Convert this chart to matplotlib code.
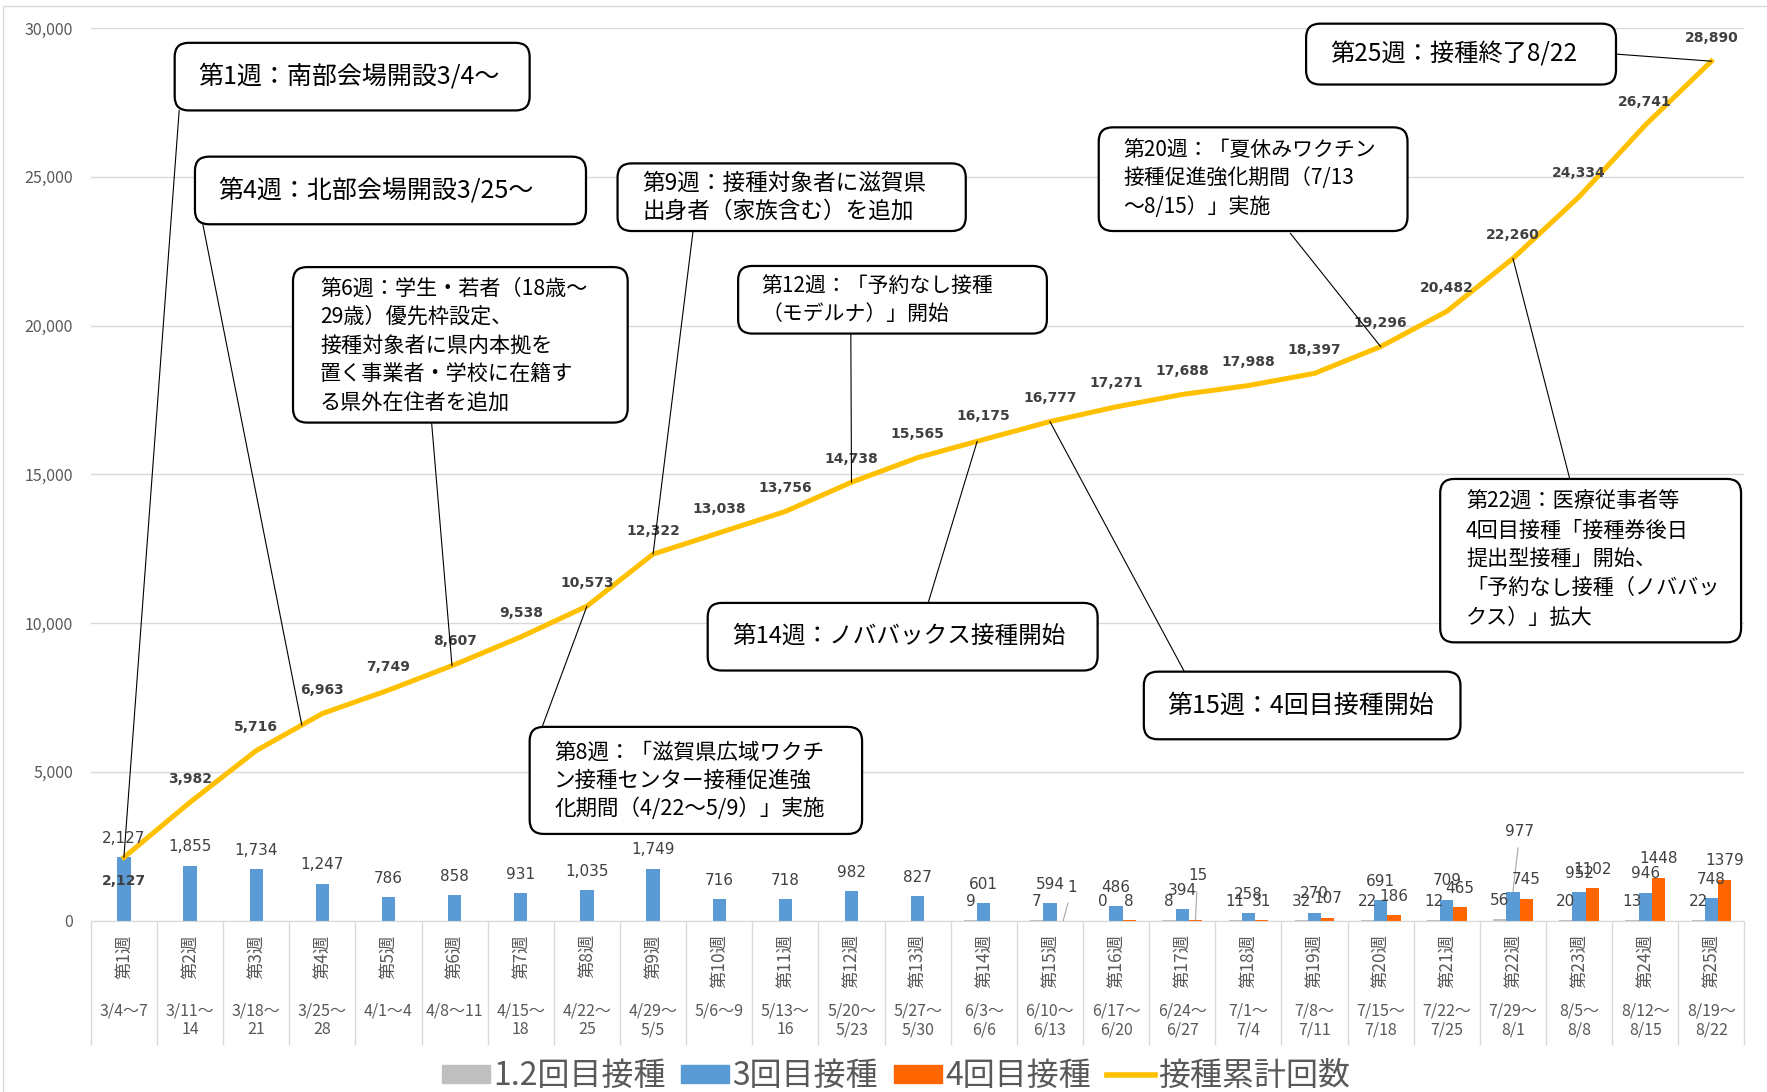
import numpy as np
import matplotlib
matplotlib.use("Agg")
import matplotlib.pyplot as plt
import matplotlib.transforms as mtransforms
from matplotlib.patches import FancyBboxPatch, Patch, ConnectionPatch, Rectangle
from matplotlib.lines import Line2D

plt.rcParams['font.family'] = ['Noto Sans CJK JP', 'DejaVu Sans']

nan = np.nan

weeks = ["第1週", "第2週", "第3週", "第4週", "第5週", "第6週", "第7週", "第8週",
         "第9週", "第10週", "第11週", "第12週", "第13週", "第14週", "第15週",
         "第16週", "第17週", "第18週", "第19週", "第20週", "第21週", "第22週",
         "第23週", "第24週", "第25週"]
dates = ["3/4～7", "3/11～\n14", "3/18～\n21", "3/25～\n28", "4/1～4", "4/8～11",
         "4/15～\n18", "4/22～\n25", "4/29～\n5/5", "5/6～9", "5/13～\n16",
         "5/20～\n5/23", "5/27～\n5/30", "6/3～\n6/6", "6/10～\n6/13", "6/17～\n6/20",
         "6/24～\n6/27", "7/1～\n7/4", "7/8～\n7/11", "7/15～\n7/18", "7/22～\n7/25",
         "7/29～\n8/1", "8/5～\n8/8", "8/12～\n8/15", "8/19～\n8/22"]

# 1.2回目 / 3回目 / 4回目 per week, and running total
dose12 = [nan, nan, nan, nan, nan, nan, nan, nan, nan, nan, nan, nan, nan,
          9, 7, 0, 8, 11, 32, 22, 12, 56, 20, 13, 22]
dose3 = [2127, 1855, 1734, 1247, 786, 858, 931, 1035, 1749, 716, 718, 982, 827,
         601, 594, 486, 394, 258, 270, 691, 709, 977, 952, 946, 748]
dose4 = [nan, nan, nan, nan, nan, nan, nan, nan, nan, nan, nan, nan, nan, nan,
         1, 8, 15, 31, 107, 186, 465, 745, 1102, 1448, 1379]
cumulative = [2127, 3982, 5716, 6963, 7749, 8607, 9538, 10573, 12322, 13038,
              13756, 14738, 15565, 16175, 16777, 17271, 17688, 17988, 18397,
              19296, 20482, 22260, 24334, 26741, 28890]

legend_labels = ["1.2回目接種", "3回目接種", "4回目接種", "接種累計回数"]

GREY = "#BFBFBF"
BLUE = "#5B9BD5"
ORANGE = "#FF6600"
GOLD = "#FFC000"
TXT = "#404040"
AXTXT = "#595959"

# reference layout is measured on a 1568x969 view
SW, SH = 1568, 969
FW, FH = 17.67, 10.92


def X(x):
    return x / SW * FW


def Y(y):
    return (1 - y / SH) * FH


fig = plt.figure(figsize=(FW, FH), dpi=100)
ax = fig.add_axes([80.6 / SW, 1 - 817 / SH, (1548 - 80.6) / SW, (817 - 25) / SH])

x = np.arange(len(weeks))
w = 0.2
ax.bar(x - w, dose12, w, color=GREY, zorder=2)
ax.bar(x, dose3, w, color=BLUE, zorder=2)
ax.bar(x + w, dose4, w, color=ORANGE, zorder=2)
ax.plot(x, cumulative, color=GOLD, lw=3.6, zorder=3, solid_joinstyle='round')

ax.set_xlim(-0.5, len(weeks) - 0.5)
ax.set_ylim(0, 30000)
ax.set_yticks(range(0, 30001, 5000))
ax.yaxis.set_major_formatter(matplotlib.ticker.StrMethodFormatter("{x:,.0f}"))
ax.tick_params(axis='y', length=0, pad=13, labelsize=11.5, labelcolor=AXTXT)
ax.yaxis.grid(True, color="#D9D9D9", lw=1)
ax.set_axisbelow(True)
for s in ["left", "right", "top"]:
    ax.spines[s].set_visible(False)
ax.spines["bottom"].set_color("#D9D9D9")

ax.set_xticks(x)
ax.set_xticklabels([])
ax.tick_params(axis='x', which='major', length=0)
ax.set_xticks(np.arange(-0.5, len(weeks), 1), minor=True)
ax.tick_params(axis='x', which='minor', length=89, color="#D9D9D9", width=1)

trans = mtransforms.blended_transform_factory(ax.transData, fig.transFigure)
for i in x:
    ax.text(i, 1 - 829 / SH, weeks[i], rotation=90, ha='center', va='top',
            transform=trans, fontsize=12.5, color=AXTXT)
    ax.text(i, 1 - 890 / SH, dates[i], ha='center', va='top', transform=trans,
            fontsize=11.5, color=AXTXT, linespacing=1.1)

# running total labels
for i, v in enumerate(cumulative):
    dy = -17 if i == 0 else 17
    ax.annotate(f"{v:,}", (i, v), xytext=(0, dy), textcoords='offset points',
                ha='center', va='center', fontsize=10, fontweight='bold',
                color=TXT, family='DejaVu Sans', zorder=4)

# bar labels
special = {(2, 14): (6.5, 24), (2, 16): (1.5, 32), (1, 21): (5, 43)}
for k, (series, off) in enumerate([(dose12, -w), (dose3, 0), (dose4, w)]):
    for i, v in enumerate(series):
        if np.isnan(v):
            continue
        txt = f"{int(v):,}" if k == 1 else f"{int(v)}"
        if (k, i) in special:
            ax.annotate(txt, (i + off, v), xytext=special[(k, i)],
                        textcoords='offset points', ha='center', va='center',
                        fontsize=11, color=TXT, family='DejaVu Sans',
                        arrowprops=dict(arrowstyle='-', color="#A6A6A6", lw=0.8,
                                        shrinkA=4, shrinkB=0))
        else:
            ax.annotate(txt, (i + off, v), xytext=(0, 13.5),
                        textcoords='offset points', ha='center', va='center',
                        fontsize=11, color=TXT, family='DejaVu Sans')

# callouts: text lines, box (x0, y0, x1, y1), text x, line y's, font size,
# anchor on box, target index on the curve
callouts = [
    (["第1週：南部会場開設3/4～"], (155, 38, 470, 98), 176, [68], 18, (159, 98), 0),
    (["第4週：北部会場開設3/25～"], (173, 139, 520, 199), 194, [169], 18, (180, 199), 2.69),
    (["第6週：学生・若者（18歳～", "29歳）優先枠設定、", "接種対象者に県内本拠を",
      "置く事業者・学校に在籍す", "る県外在住者を追加"],
     (260, 237, 557, 375), 284, [256, 281, 307, 333, 358], 15.2, (383, 375), 4.96),
    (["第9週：接種対象者に滋賀県", "出身者（家族含む）を追加"],
     (548, 145, 857, 205), 570, [163, 187], 16.3, (615, 205), 8),
    (["第12週：「予約なし接種", "（モデルナ）」開始"],
     (655, 236, 929, 296), 676, [254, 279], 15, (755, 296), 11),
    (["第20週：「夏休みワクチン", "接種促進強化期間（7/13", "～8/15）」実施"],
     (975, 113, 1249, 205), 997, [133, 158, 184], 15, (1145, 207), 19),
    (["第25週：接種終了8/22"], (1159, 21, 1434, 75), 1180, [48], 17.5, (1434, 48), 24),
    (["第22週：医療従事者等", "4回目接種「接種券後日", "提出型接種」開始、",
      "「予約なし接種（ノババッ", "クス）」拡大"],
     (1278, 425, 1545, 570), 1301, [445, 471, 497, 522, 548], 15.2, (1393, 425), 21),
    (["第14週：ノババックス接種開始"], (628, 535, 974, 595), 650, [565], 17, (823, 537), 12.9),
    (["第15週：4回目接種開始"], (1015, 596, 1296, 656), 1036, [626], 18, (1051, 596), 14),
    (["第8週：「滋賀県広域ワクチ", "ン接種センター接種促進強", "化期間（4/22～5/9）」実施"],
     (470, 645, 765, 740), 492, [668, 693, 718], 15.5, (480, 648), 7),
]

for lines, (x0, y0, x1, y1), tx, lys, fs, (axx, axy), tgt in callouts:
    box = FancyBboxPatch((X(x0), Y(y1)), X(x1) - X(x0), Y(y0) - Y(y1),
                         boxstyle='round,pad=0,rounding_size=0.14',
                         transform=fig.dpi_scale_trans, fc='white', ec='black',
                         lw=1.6, zorder=6)
    fig.add_artist(box)
    for line, ly in zip(lines, lys):
        fig.text(X(tx), Y(ly), line, transform=fig.dpi_scale_trans, ha='left',
                 va='center', fontsize=fs, color='black', zorder=7)
    ty = np.interp(tgt, x, cumulative)
    cp = ConnectionPatch(xyA=(X(axx), Y(axy)), coordsA=fig.dpi_scale_trans,
                         xyB=(tgt, ty), coordsB=ax.transData, color='black',
                         lw=0.8, zorder=5)
    fig.add_artist(cp)

handles = [Patch(color=GREY), Patch(color=BLUE), Patch(color=ORANGE),
           Line2D([], [], color=GOLD, lw=4)]
fig.legend(handles, legend_labels, loc='center', bbox_to_anchor=(795 / SW, 1 - 955 / SH),
           ncol=4, frameon=False, fontsize=23, labelcolor=AXTXT, handlelength=1.5,
           handleheight=0.5, handletextpad=0.1, columnspacing=0.5)

fig.add_artist(Rectangle((3 / SW, -0.01), 1.1, 1 - 5 / SH + 0.01, transform=fig.transFigure,
                         fill=False, ec="#D9D9D9", lw=1))

fig.savefig("out.png", dpi=100)
